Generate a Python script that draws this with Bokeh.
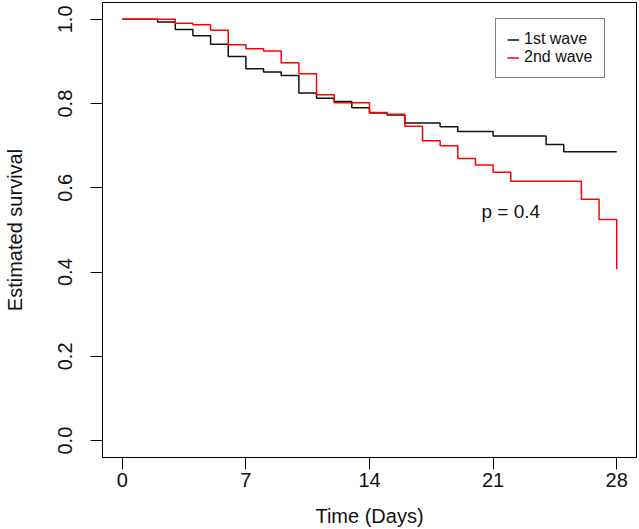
from bokeh.plotting import figure
from bokeh.models import (Range1d, FixedTicker, Legend, LegendItem, Label)
from bokeh.embed import file_html
from bokeh.resources import INLINE

# ---- data (Kaplan-Meier step curves) ----
wave1_days = [0, 2, 3, 4, 5, 6, 7, 8, 9, 10, 11, 12, 13, 14, 15, 16, 18, 19, 21, 24, 25, 28]
wave1_surv = [1.0, 0.994, 0.976, 0.961, 0.941, 0.912, 0.883, 0.875, 0.867, 0.825, 0.813,
              0.805, 0.790, 0.778, 0.773, 0.754, 0.745, 0.734, 0.723, 0.703, 0.686, 0.686]

wave2_days = [0, 3, 4, 5, 6, 7, 8, 9, 10, 11, 12, 14, 15, 16, 17, 18, 19, 20, 21, 22, 26, 27, 28]
wave2_surv = [1.0, 0.991, 0.987, 0.974, 0.940, 0.930, 0.925, 0.897, 0.871, 0.821, 0.802,
              0.779, 0.775, 0.746, 0.712, 0.700, 0.670, 0.654, 0.637, 0.616, 0.573, 0.525, 0.407]

series_labels = ["1st wave", "2nd wave"]
x_ticks = [0, 7, 14, 21, 28]
x_tick_labels = ["0", "7", "14", "21", "28"]
y_ticks = [0.0, 0.2, 0.4, 0.6, 0.8, 1.0]
y_tick_labels = ["0.0", "0.2", "0.4", "0.6", "0.8", "1.0"]
p_value_text = "p = 0.4"
x_title = "Time (Days)"
y_title = "Estimated survival"

FONT = "Liberation Sans"

p = figure(width=639, height=529, output_backend="svg", toolbar_location=None,
           x_range=Range1d(-1.12, 29.12), y_range=Range1d(-0.04, 1.04),
           min_border_left=101, min_border_right=3, min_border_top=2, min_border_bottom=71)
p.title.visible = False
p.grid.visible = False
p.outline_line_color = "black"
p.outline_line_width = 1
p.background_fill_color = "white"
p.border_fill_color = "white"

r1 = p.step(wave1_days, wave1_surv, mode="after", line_color="#111111", line_width=1.5)
r2 = p.step(wave2_days, wave2_surv, mode="after", line_color="#FF0000", line_width=1.5)

# axes
xa = p.xaxis[0]
xa.ticker = FixedTicker(ticks=x_ticks, minor_ticks=[])
xa.major_label_overrides = {t: l for t, l in zip(x_ticks, x_tick_labels)}
ya = p.yaxis[0]
ya.ticker = FixedTicker(ticks=y_ticks, minor_ticks=[])
ya.major_label_overrides = {t: l for t, l in zip(y_ticks, y_tick_labels)}
ya.major_label_orientation = "vertical"

for ax in (xa, ya):
    ax.axis_line_color = "black"
    ax.major_tick_line_color = "black"
    ax.major_tick_out = 12
    ax.major_tick_in = 0
    ax.minor_tick_out = 0
    ax.minor_tick_in = 0
    ax.major_label_text_font = FONT
    ax.major_label_text_font_size = "20px"
    ax.major_label_text_color = "#111111"
    ax.axis_label_text_font = FONT
    ax.axis_label_text_font_size = "20px"
    ax.axis_label_text_font_style = "normal"
    ax.axis_label_text_color = "#111111"

xa.axis_label = x_title
xa.major_label_standoff = 3
xa.axis_label_standoff = 15
ya.axis_label = y_title
ya.major_label_standoff = 18
ya.axis_label_standoff = 30

# legend
legend = Legend(items=[LegendItem(label=series_labels[0], renderers=[r1]),
                       LegendItem(label=series_labels[1], renderers=[r2])],
                location=(393, 379))
legend.border_line_color = "black"
legend.border_line_width = 1
legend.background_fill_color = "white"
legend.background_fill_alpha = 1.0
legend.label_text_font = FONT
legend.label_text_font_size = "16px"
legend.label_text_color = "#111111"
legend.glyph_width = 12
legend.glyph_height = 17
legend.label_height = 17
legend.label_standoff = 5
legend.padding = 11
legend.spacing = 0
legend.margin = 0
p.add_layout(legend)

lab = Label(x=22.0, y=0.543, text=p_value_text, text_align="center", text_baseline="middle",
            text_font=FONT, text_font_size="19px", text_color="#111111")
p.add_layout(lab)

open("out.html", "w").write(file_html(p, INLINE))
